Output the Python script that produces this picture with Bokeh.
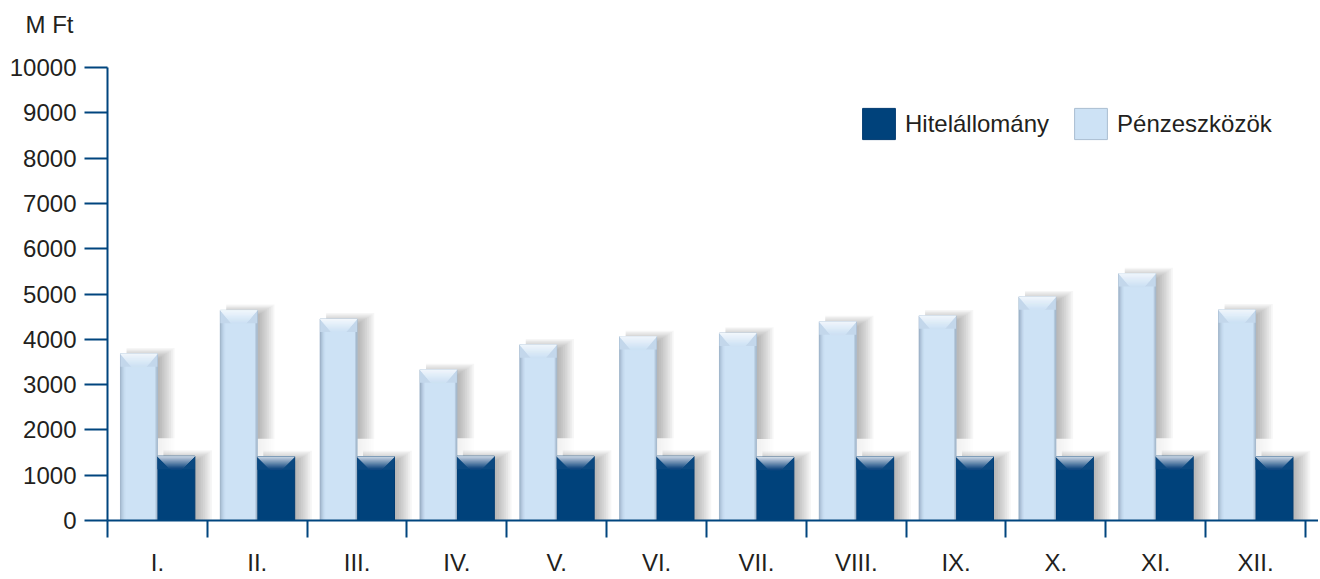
import numpy as np
from bokeh.plotting import figure
from bokeh.models import (Range1d, FixedTicker, Legend, LegendItem)
from bokeh.embed import file_html
from bokeh.resources import INLINE

# ---------------- data ----------------
categories = ["I.", "II.", "III.", "IV.", "V.", "VI.", "VII.", "VIII.", "IX.", "X.", "XI.", "XII."]
penzeszkozok = [3680, 4640, 4450, 3330, 3880, 4060, 4140, 4390, 4520, 4940, 5450, 4650]
hitelallomany = [1420, 1410, 1410, 1420, 1420, 1420, 1400, 1410, 1410, 1410, 1420, 1410]
y_ticks = [0, 1000, 2000, 3000, 4000, 5000, 6000, 7000, 8000, 9000, 10000]
y_tick_labels = ["0", "1000", "2000", "3000", "4000", "5000", "6000", "7000", "8000", "9000", "10000"]
series_names = ["Hitelállomány", "Pénzeszközök"]
unit_label = "M Ft"

# ---------------- layout constants ----------------
W, H = 1318, 578
BL, BT, BR = 107, 67, 0
BB = H - 520
FW, FH = W - BL - BR, H - BT - BB
CAT_PX = 99.83
X_END = FW / CAT_PX
Y_END = 10000
XPX = X_END / FW          # data units per pixel (x)
YPX = Y_END / FH          # data units per pixel (y)

AXIS_COL = "#00457e"
TEXT_COL = "#231f20"
FONT = "Liberation Sans"
LIGHT = "#cde2f5"
DARK = "#00427b"

n = len(categories)
idx = np.arange(n)
centers = idx + 0.5
lw_ = 0.37
dw_ = 0.375
light_L = centers - lw_
light_R = centers
dark_L = centers
dark_R = centers + dw_
light_T = np.array(penzeszkozok, dtype=float)
dark_T = np.array(hitelallomany, dtype=float)

p = figure(width=W, height=H, output_backend="svg", toolbar_location=None,
           x_range=Range1d(0, X_END), y_range=Range1d(0, Y_END),
           min_border_left=BL, min_border_top=BT, min_border_bottom=BB, min_border_right=BR,
           outline_line_color=None, background_fill_color="white",
           title=unit_label)
p.xgrid.visible = False
p.ygrid.visible = False
p.title.align = "left"
p.title.vertical_align = "top"
p.title.offset = -82
p.title.standoff = 0
p.title.padding = (0, 0, 0, 28)
p.title.text_font = FONT
p.title.text_font_size = "24px"
p.title.text_font_style = "normal"
p.title.text_color = TEXT_COL


def hex2rgb(h):
    h = h.lstrip("#")
    return np.array([int(h[i:i + 2], 16) for i in (0, 2, 4)], dtype=float)


def mix(c1, c2, t):
    a, b = hex2rgb(c1), hex2rgb(c2)
    c = a + (b - a) * t
    return "#%02x%02x%02x" % tuple(int(round(v)) for v in c)


def shadow(L, R, T, K=10, alpha=0.05):
    for k in range(K):
        p.quad(left=L + 6 * XPX, right=R + (1 + 1.8 * k) * XPX,
               bottom=0, top=T + (1.2 * k - 5) * YPX,
               fill_color="#45454f", fill_alpha=alpha, line_color=None)


# shadows of light bars
shadow(light_L, light_R, light_T)
# lighter band behind dark bars (shadow canvas of dark bars)
p.quad(left=dark_L, right=dark_R + 16 * XPX, bottom=0, top=dark_T + 18 * YPX,
       fill_color="white", fill_alpha=0.8, line_color=None)
# shadows of dark bars
shadow(dark_L, dark_R, dark_T)

# main bars
r_light = p.quad(left=light_L, right=light_R, bottom=0, top=light_T,
                 fill_color=LIGHT, line_color="#a9bdd1", line_width=1)
r_dark = p.quad(left=dark_L, right=dark_R, bottom=0, top=dark_T,
                fill_color=DARK, line_color="#003a70", line_width=1)

# light bar edge shading
left_cols = ["#9cb1c7", "#a9bed4", "#b5cadf", "#bfd4e9", "#c7dcf0"]
for j, c in enumerate(left_cols):
    p.quad(left=light_L + j * XPX, right=light_L + (j + 1) * XPX, bottom=0, top=light_T,
           fill_color=c, line_color=None)
right_cols = ["#b4c8dc", "#a4b8cc"]
for j, c in enumerate(right_cols):
    p.quad(left=light_R - (2 - j) * XPX, right=light_R - (1 - j) * XPX, bottom=0, top=light_T,
           fill_color=c, line_color=None)


def bevel(L, R, T, depth_px, ratio, side_col, c_top, c_bot):
    # side faces of the top bevel
    p.quad(left=L, right=R, bottom=T - depth_px * YPX, top=T,
           fill_color=side_col, line_color=None)
    xs, ys, cols = [], [], []
    for b in range(len(L)):
        for d in range(depth_px):
            y0 = T[b] - d * YPX
            y1 = T[b] - (d + 1) * YPX
            i0 = d * ratio * XPX
            i1 = (d + 1) * ratio * XPX
            xs.append([L[b] + i0, R[b] - i0, R[b] - i1, L[b] + i1])
            ys.append([y0, y0, y1, y1])
            cols.append(mix(c_top, c_bot, d / (depth_px - 1)))
    p.patches(xs=xs, ys=ys, fill_color=cols, line_color=cols, line_width=0.5)


bevel(light_L, light_R, light_T, 13, 0.85, "#c3d7eb", "#f3f8fd", "#cfe3f5")
bevel(dark_L, dark_R, dark_T, 13, 1.0, "#0a4880", "#d3dce8", "#124880")

# ---------------- axes ----------------
ya = p.yaxis[0]
ya.ticker = FixedTicker(ticks=y_ticks)
ya.major_label_overrides = {t: s for t, s in zip(y_ticks, y_tick_labels)}
ya.bounds = (0, Y_END)
ya.axis_line_color = AXIS_COL
ya.axis_line_width = 2
ya.major_tick_line_color = AXIS_COL
ya.major_tick_line_width = 2
ya.major_tick_out = 23
ya.major_tick_in = 0
ya.minor_tick_line_color = None
ya.major_label_standoff = 8
ya.major_label_text_font = FONT
ya.major_label_text_font_size = "24px"
ya.major_label_text_color = TEXT_COL

xa = p.xaxis[0]
xa.ticker = FixedTicker(ticks=list(centers), minor_ticks=list(range(n + 1)))
xa.major_label_overrides = {float(c): lab for c, lab in zip(centers, categories)}
xa.major_label_text_font = FONT
xa.major_label_text_font_size = "24px"
xa.major_label_text_color = TEXT_COL
xa.major_label_standoff = 11
xa.axis_line_color = AXIS_COL
xa.axis_line_width = 2
xa.major_tick_line_color = None
xa.major_tick_out = 0
xa.major_tick_in = 0
xa.minor_tick_line_color = AXIS_COL
xa.minor_tick_line_width = 2
xa.minor_tick_out = 17
xa.minor_tick_in = 0

# legend
legend = Legend(items=[LegendItem(label=series_names[0], renderers=[r_dark]),
                       LegendItem(label=series_names[1], renderers=[r_light])],
                orientation="horizontal", location=(751, 377),
                glyph_width=41, glyph_height=39, label_height=39,
                label_standoff=6, spacing=21, padding=0, margin=0,
                label_text_font=FONT, label_text_font_size="24px", label_text_color=TEXT_COL,
                background_fill_alpha=0, border_line_alpha=0)
p.add_layout(legend)

open("out.html", "w").write(file_html(p, INLINE))
